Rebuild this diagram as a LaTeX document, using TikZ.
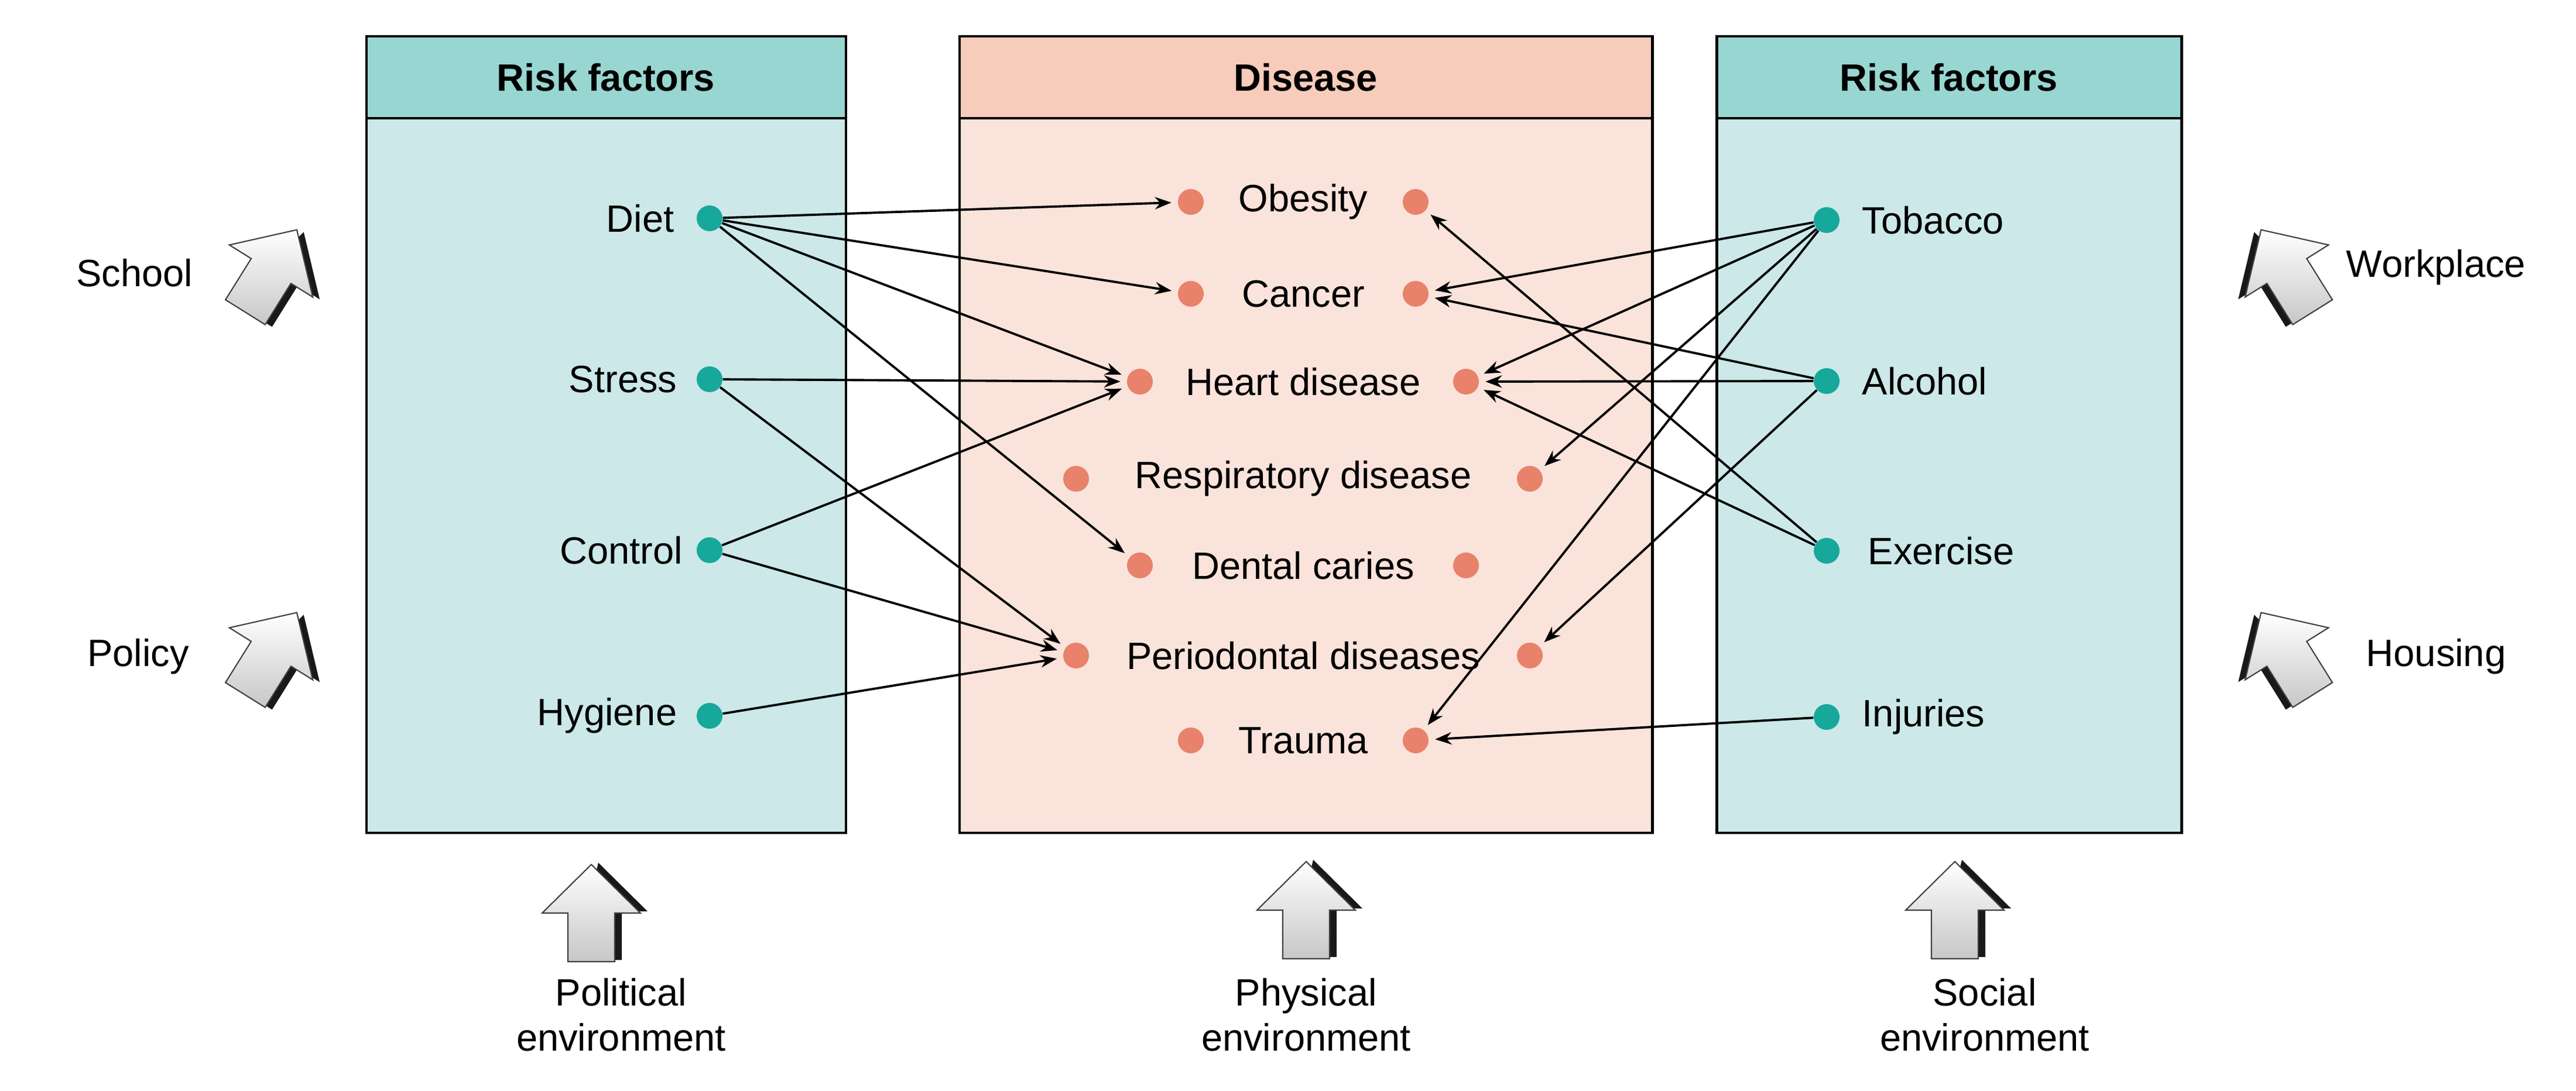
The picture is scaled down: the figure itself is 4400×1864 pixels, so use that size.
\documentclass[tikz,border=0pt]{standalone}
\usepackage{fontspec}
\setmainfont{Liberation Sans}
\usetikzlibrary{arrows.meta,shadings}
\definecolor{tealbox}{HTML}{CCE8E8}
\definecolor{tealhead}{HTML}{98D6D2}
\definecolor{pinkbox}{HTML}{FAE3DB}
\definecolor{pinkhead}{HTML}{F8CCBB}
\definecolor{dotorange}{HTML}{E8826A}
\definecolor{dotteal}{HTML}{16A89A}
\tikzset{
  box/.style={draw=black,line width=1.4pt},
  txt/.style={font=\fontsize{18.5}{22}\selectfont,inner sep=0pt},
  head/.style={font=\bfseries\fontsize{18.5}{22}\selectfont,inner sep=0pt},
  ddot/.style={circle,fill=dotorange,minimum size=0.44cm,inner sep=0pt},
  rdot/.style={circle,fill=dotteal,minimum size=0.44cm,inner sep=0pt},
  link/.style={line width=1.1pt,-{Stealth[length=8pt,width=6pt]},shorten >=3pt},
  pics/bigarrow/.style={code={
    \fill[black!90] (-28,80) -- (52,80) -- (52,-3) -- (96,-3) -- (12,-86) -- cycle;
    \shade[top color=white,bottom color=black!22,draw=black!75,line width=0.6pt]
      (-40,83) -- (40,83) -- (40,0) -- (84,0) -- (0,-83) -- (-84,0) -- (-40,0) -- cycle;
  }}
}
\begin{document}
\begin{tikzpicture}[x=0.01cm,y=-0.01cm]
\useasboundingbox (0,0) rectangle (4400,1864);
% boxes
\draw[box,fill=tealbox] (626,202) rectangle (1445,1423);
\draw[box,fill=tealhead] (626,62) rectangle (1445,202);
\draw[box,fill=pinkbox] (1639,202) rectangle (2822,1423);
\draw[box,fill=pinkhead] (1639,62) rectangle (2822,202);
\draw[box,fill=tealbox] (2932,202) rectangle (3726,1423);
\draw[box,fill=tealhead] (2932,62) rectangle (3726,202);
\node[head] (h1) at (1035,132) {Risk factors};
\node[head] (h2) at (2230,132) {Disease};
\node[head] (h3) at (3329,132) {Risk factors};
% left risk factors
\node[rdot] (diet) at (1212,373) {};
\node[rdot] (stress) at (1212,648) {};
\node[rdot] (control) at (1212,940) {};
\node[rdot] (hygiene) at (1212,1223) {};
\node[txt,anchor=east] (tdiet) at (1152,373) {Diet};
\node[txt,anchor=east] (tstress) at (1157,648) {Stress};
\node[txt,anchor=east] (tcontrol) at (1167,940) {Control};
\node[txt,anchor=east] (thygiene) at (1157,1223) {Hygiene};
% right risk factors
\node[rdot] (tob) at (3120,376) {};
\node[rdot] (alc) at (3120,651) {};
\node[rdot] (exe) at (3120,941) {};
\node[rdot] (inj) at (3120,1225) {};
\node[txt,anchor=west] (ttob) at (3180,376) {Tobacco};
\node[txt,anchor=west] (talc) at (3180,651) {Alcohol};
\node[txt,anchor=west] (texe) at (3190,941) {Exercise};
\node[txt,anchor=west] (tinj) at (3180,1225) {Injuries};
% diseases
\node[ddot] (obL) at (2034,345) {}; \node[ddot] (obR) at (2418,345) {};
\node[txt] (tob1) at (2226,345) {Obesity};
\node[ddot] (caL) at (2034,502) {}; \node[ddot] (caR) at (2418,502) {};
\node[txt] (tca) at (2226,502) {Cancer};
\node[ddot] (heL) at (1947,652) {}; \node[ddot] (heR) at (2504,652) {};
\node[txt] (the) at (2226,652) {Heart disease};
\node[ddot] (reL) at (1838,818) {}; \node[ddot] (reR) at (2613,818) {};
\node[txt] (tre) at (2226,818) {Respiratory disease};
\node[ddot] (deL) at (1947,966) {}; \node[ddot] (deR) at (2504,966) {};
\node[txt] (tde) at (2226,966) {Dental caries};
\node[ddot] (peL) at (1838,1120) {}; \node[ddot] (peR) at (2613,1120) {};
\node[txt] (tpe) at (2226,1120) {Periodontal diseases};
\node[ddot] (trL) at (2034,1265) {}; \node[ddot] (trR) at (2418,1265) {};
\node[txt] (ttr) at (2226,1265) {Trauma};
% links
\draw[link] (diet) -- (obL);
\draw[link] (diet) -- (caL);
\draw[link] (diet) -- (heL);
\draw[link] (diet) -- (deL);
\draw[link] (stress) -- (heL);
\draw[link] (stress) -- (peL);
\draw[link] (control) -- (heL);
\draw[link] (control) -- (peL);
\draw[link] (hygiene) -- (peL);
\draw[link] (tob) -- (caR);
\draw[link] (tob) -- (heR);
\draw[link] (tob) -- (reR);
\draw[link] (tob) -- (trR);
\draw[link] (alc) -- (caR);
\draw[link] (alc) -- (heR);
\draw[link] (alc) -- (peR);
\draw[link] (exe) -- (obR);
\draw[link] (exe) -- (heR);
\draw[link] (inj) -- (trR);
% environment arrows
\pic[rotate=-32] at (463,463) {bigarrow};
\pic[rotate=-32] at (463,1117) {bigarrow};
\pic[xscale=-1,rotate=-32] at (3906,463) {bigarrow};
\pic[xscale=-1,rotate=-32] at (3906,1117) {bigarrow};
\pic at (1010,1560) {bigarrow};
\pic at (2231,1555) {bigarrow};
\pic at (3339,1555) {bigarrow};
\node[txt] (school) at (230,466) {School};
\node[txt] (policy) at (236,1122) {Policy};
\node[txt] (work) at (4161,457) {Workplace};
\node[txt] (house) at (4161,1122) {Housing};
\node[txt,align=center] (pol) at (1061,1734) {Political\\environment};
\node[txt,align=center] (phy) at (2231,1734) {Physical\\environment};
\node[txt,align=center] (soc) at (3390,1734) {Social\\environment};
\end{tikzpicture}
\end{document}
